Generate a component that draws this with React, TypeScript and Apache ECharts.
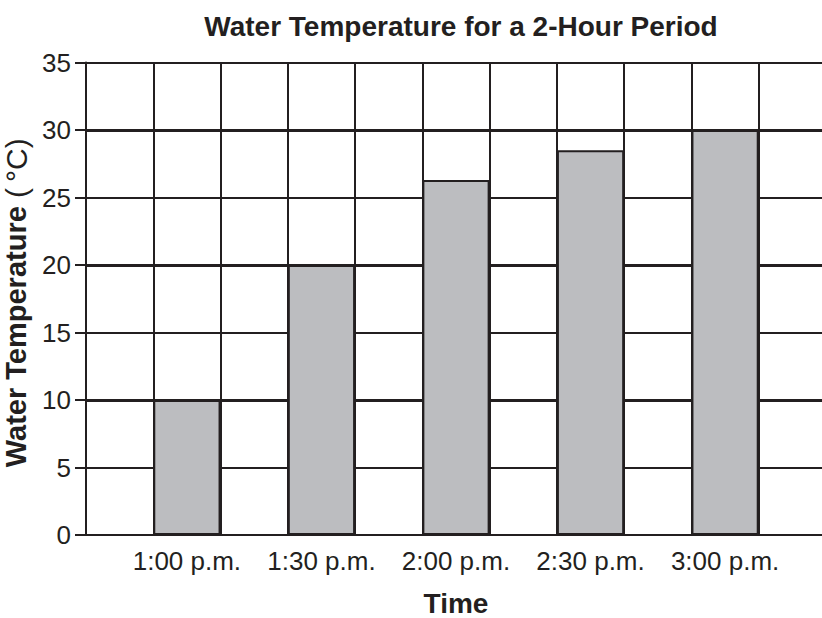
import React, { useEffect, useRef } from "react";
import * as echarts from "echarts";

const times = ["1:00 p.m.", "1:30 p.m.", "2:00 p.m.", "2:30 p.m.", "3:00 p.m."];
const temps = [10, 20, 26.3, 28.5, 30];
const yMin = 0;
const yMax = 35;
const yStep = 5;
const majorMin = 10;
const majorMax = 30;
const majorStep = 10;

const titleText = "Water Temperature for a 2-Hour Period";
const yNameBold = "Water Temperature";
const yNameUnit = " (\u2009°C)";
const xName = "Time";

const INK = "#231F20";
const BAR = "#BCBDC0";
const FONT = "'Liberation Sans', Arial, Helvetica, sans-serif";

// spaced categories: an empty column before each time, and one after the last
const categories: string[] = [];
const values: (number | null)[] = [];
times.forEach((t, i) => {
  categories.push("");
  values.push(null);
  categories.push(t);
  values.push(temps[i]);
});
categories.push("");
values.push(null);

export default function App() {
  const ref = useRef<HTMLDivElement>(null);
  useEffect(() => {
    document.body.style.margin = "0";
    const chart = echarts.init(ref.current!, undefined, { renderer: "svg" });
    const gridLeft = 86;
    const gridRight = -4;
    const gridTop = 62.5;
    const gridBottom = 83;
    const plotH = 618 - gridTop - gridBottom;
    const yOf = (v: number) => gridTop + plotH * (1 - (v - yMin) / (yMax - yMin));
    chart.setOption({
      animation: false,
      backgroundColor: "#ffffff",
      textStyle: { fontFamily: FONT, color: INK },
      graphic: [
        {
          type: "text",
          x: 461,
          y: 26,
          style: {
            text: titleText,
            fontFamily: FONT,
            fontSize: 28,
            fontWeight: "bold",
            fill: INK,
            textAlign: "center",
            textVerticalAlign: "middle",
          },
        },
      ],
      grid: [
        {
          left: gridLeft,
          right: gridRight,
          top: gridTop,
          bottom: gridBottom,
          containLabel: false,
          outerBoundsMode: "none",
        },
        {
          left: gridLeft,
          right: gridRight,
          top: yOf(majorMax),
          bottom: 618 - yOf(majorMin),
          containLabel: false,
          outerBoundsMode: "none",
        },
      ],
      xAxis: [
        {
          type: "category",
          gridIndex: 0,
          data: categories,
          boundaryGap: true,
          name: xName,
          nameLocation: "middle",
          nameGap: 54,
          nameTextStyle: {
            fontFamily: FONT,
            fontSize: 28,
            fontWeight: "bold",
            color: INK,
            lineHeight: 28,
          },
          axisLine: { show: true, lineStyle: { color: INK, width: 2 } },
          axisTick: { show: false },
          axisLabel: { interval: 0, margin: 13, fontFamily: FONT, fontSize: 26, color: INK },
          splitLine: { show: true, interval: 0, lineStyle: { color: INK, width: 2 } },
        },
        {
          type: "value",
          gridIndex: 1,
          min: 0,
          max: 1,
          show: false,
        },
      ],
      yAxis: [
        {
          type: "value",
          gridIndex: 0,
          min: yMin,
          max: yMax,
          interval: yStep,
          name: `{b|${yNameBold}}{n|${yNameUnit}}`,
          nameLocation: "middle",
          nameGap: 49,
          nameTextStyle: {
            padding: [0, 8, 0, 0],
            rich: {
              b: { fontFamily: FONT, fontSize: 29, fontWeight: "bold", color: INK },
              n: { fontFamily: FONT, fontSize: 30, fontWeight: "normal", color: INK },
            },
          },
          axisLine: { show: true, lineStyle: { color: INK, width: 2 } },
          axisTick: { show: true, length: 11, lineStyle: { color: INK, width: 2 } },
          axisLabel: { margin: 15, fontFamily: FONT, fontSize: 26, color: INK },
          splitLine: { show: true, lineStyle: { color: INK, width: 2 } },
        },
        {
          type: "value",
          gridIndex: 1,
          min: majorMin,
          max: majorMax,
          interval: majorStep,
          axisLine: { show: false },
          axisTick: { show: false },
          axisLabel: { show: false },
          splitLine: { show: true, lineStyle: { color: INK, width: 3 } },
        },
      ],
      series: [
        {
          type: "bar",
          xAxisIndex: 0,
          yAxisIndex: 0,
          data: values,
          barWidth: "100%",
          itemStyle: { color: BAR, borderColor: INK, borderWidth: 2 },
          z: 3,
        },
      ],
    });
    return () => chart.dispose();
  }, []);
  return (
    <div
      ref={ref}
      style={{ position: "absolute", left: 0, top: 0, width: 822, height: 618, overflow: "hidden" }}
    />
  );
}
